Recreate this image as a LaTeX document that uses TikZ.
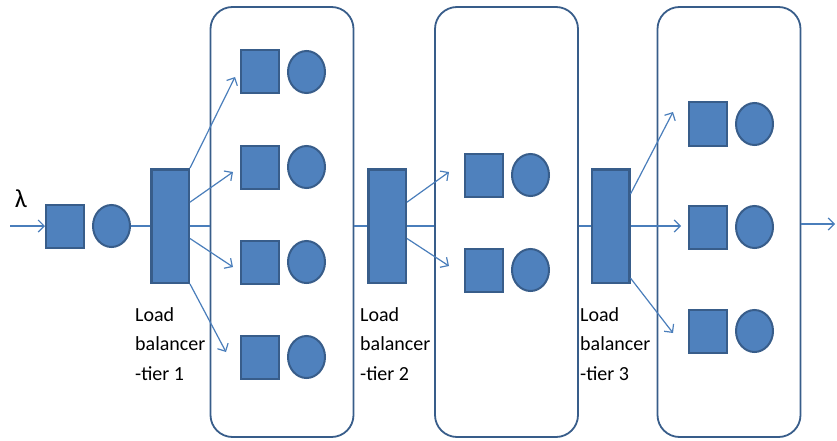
\documentclass[tikz,border=0pt]{standalone}
\usepackage{fontspec}
\setmainfont{Carlito}
\usetikzlibrary{positioning,shapes.geometric,arrows.meta}

\definecolor{qfill}{HTML}{4F81BD}
\definecolor{qedge}{HTML}{385D8A}
\definecolor{qline}{HTML}{4A7EBB}

\tikzset{
  queue/.style = {rectangle, fill=qfill, draw=qedge, line width=2pt,
    minimum width=38pt, minimum height=43pt, inner sep=0pt},
  server/.style = {ellipse, fill=qfill, draw=qedge, line width=2pt,
    minimum width=37pt, minimum height=42pt, inner sep=0pt},
  balancer/.style = {rectangle, fill=qfill, draw=qedge, line width=2.5pt,
    minimum width=37.5pt, minimum height=113.5pt, inner sep=0pt},
  tier/.style = {rectangle, rounded corners=22pt, draw=qedge, line width=1.8pt,
    minimum width=143pt, minimum height=430pt},
  link/.style = {draw=qline, line width=1.2pt},
  flow/.style = {link, -{Straight Barb[length=6pt,width=12pt]}},
  lbtext/.style = {align=left, inner sep=0pt, anchor=north west,
    font=\fontsize{20}{29.5}\selectfont}
}

\begin{document}
\begin{tikzpicture}[x=1pt, y=-1pt]
        \useasboundingbox (0,0) rectangle (837,441);
        %
        \node[tier] (tier1) at (282,222) {} ; %
        \node[tier] (tier2) at (506.5,222) {} ; %
        \node[tier] (tier3) at (729,222) {} ; %
        %
        \node (lam) at (21,199) {\fontsize{26}{30}\selectfont λ} ; %
        \coordinate (in) at (10,226) ; %
        \node[queue] (q0) at (65,226) {} ; %
        \node[server, right = 7pt of q0] (c0) {} ; %
        \node[balancer] (lb1) at (170,226) {} ; %
        \node[balancer] (lb2) at (387,226) {} ; %
        \node[balancer] (lb3) at (610.5,226) {} ; %
        \coordinate (out) at (835,224) ; %
        %
        \node[queue] (q11) at (260,72) {} ; %
        \node[server, right = 7pt of q11] (c11) {} ; %
        \node[queue] (q12) at (260,167) {} ; %
        \node[server, right = 7pt of q12] (c12) {} ; %
        \node[queue] (q13) at (260,262) {} ; %
        \node[server, right = 7pt of q13] (c13) {} ; %
        \node[queue] (q14) at (260,357) {} ; %
        \node[server, right = 7pt of q14] (c14) {} ; %
        %
        \node[queue] (q21) at (484,175) {} ; %
        \node[server, right = 7pt of q21] (c21) {} ; %
        \node[queue] (q22) at (484,270) {} ; %
        \node[server, right = 7pt of q22] (c22) {} ; %
        %
        \node[queue] (q31) at (708,124) {} ; %
        \node[server, right = 7pt of q31] (c31) {} ; %
        \node[queue] (q32) at (708,227) {} ; %
        \node[server, right = 7pt of q32] (c32) {} ; %
        \node[queue] (q33) at (708,331) {} ; %
        \node[server, right = 7pt of q33] (c33) {} ; %
        %
        \node[lbtext] (lbl1) at (135,307) {Load\\balancer\\-tier 1} ; %
        \node[lbtext] (lbl2) at (360,307) {Load\\balancer\\-tier 2} ; %
        \node[lbtext] (lbl3) at (580,307) {Load\\balancer\\-tier 3} ; %
        %
        \coordinate (a11) at (235,77) ; %
        \coordinate (a12) at (233,172) ; %
        \coordinate (a13) at (233,267) ; %
        \coordinate (a14) at (226,352) ; %
        \coordinate (a21) at (449,172) ; %
        \coordinate (a22) at (449,266) ; %
        \coordinate (a31) at (673,112) ; %
        \coordinate (a32) at (681,226) ; %
        \coordinate (a33) at (673,333) ; %
        %
        \draw[flow] (in) -- (q0) ; %
        \draw[link] (c0) -- (lb1) ; %
        \draw[flow] (lb1.north east) -- (a11) ; %
        \draw[flow] (lb1.50) -- (a12) ; %
        \draw[flow] (lb1.-32) -- (a13) ; %
        \draw[flow] (lb1.south east) -- (a14) ; %
        \draw[link] (lb1.east) -- (lb1.east -| tier1.west) ; %
        \draw[link] (tier1.east |- lb2) -- (lb2.west) ; %
        \draw[flow] (lb2.50) -- (a21) ; %
        \draw[flow] (lb2.-32) -- (a22) ; %
        \draw[link] (lb2.east) -- (lb2.east -| tier2.west) ; %
        \draw[link] (tier2.east |- lb3) -- (lb3.west) ; %
        \draw[flow] (lb3.58) -- (a31) ; %
        \draw[flow] (lb3.east) -- (a32) ; %
        \draw[flow] (lb3.-69) -- (a33) ; %
        \draw[flow] (tier3.east |- out) -- (out) ; %
\end{tikzpicture}
\end{document}
